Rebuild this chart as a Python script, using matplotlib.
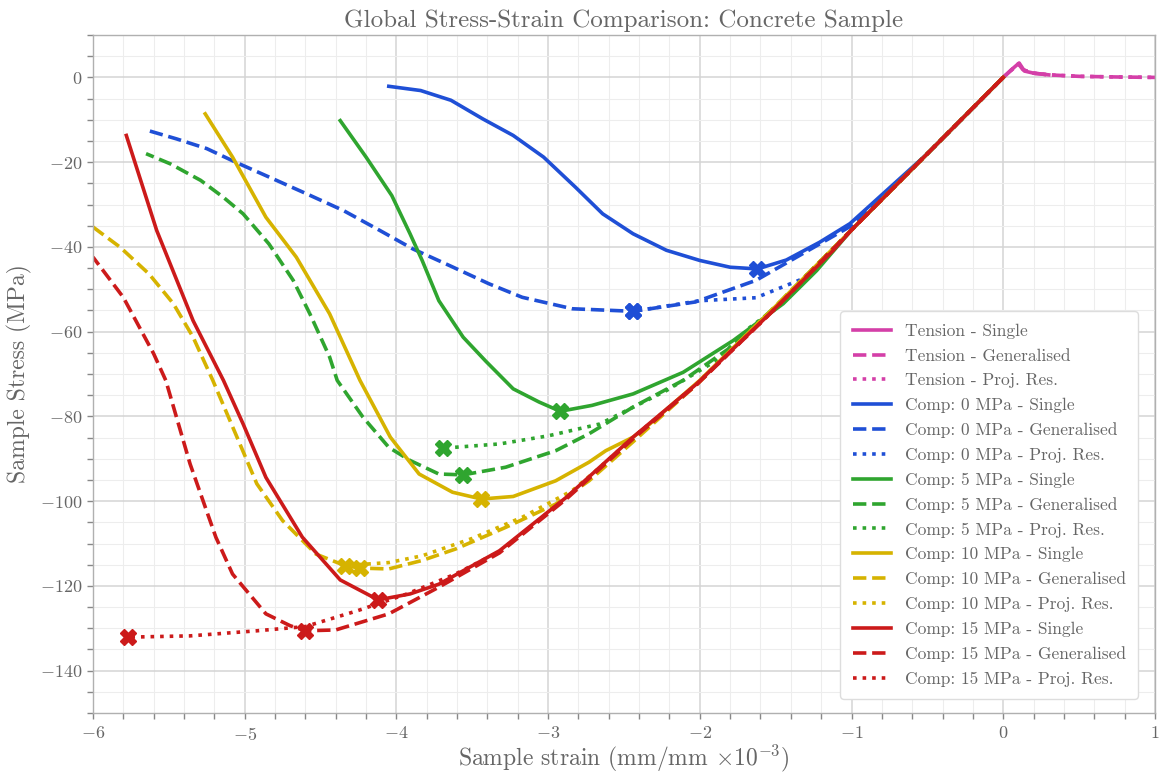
import matplotlib
matplotlib.use("Agg")
import matplotlib.pyplot as plt
from matplotlib.ticker import MultipleLocator

plt.rcParams['font.family'] = 'serif'
plt.rcParams['font.serif'] = ['cmr10', 'DejaVu Serif']
plt.rcParams['mathtext.fontset'] = 'cm'
plt.rcParams['axes.formatter.use_mathtext'] = True
plt.rcParams['axes.unicode_minus'] = True

TXT = '#666666'

# ---------------- data ----------------
tension_single_x = [0.0, 0.05, 0.105, 0.14, 0.2, 0.3]
tension_single_y = [0.0, 1.7, 3.4, 1.5, 1.0, 0.6]
tension_gen_x = [0.0, 0.05, 0.1, 0.13, 0.2, 0.3, 0.5, 0.75, 1.0]
tension_gen_y = [0.0, 1.6, 3.2, 1.8, 1.0, 0.6, 0.25, 0.1, 0.0]
tension_proj_x = tension_gen_x
tension_proj_y = tension_gen_y

# Compression 0 MPa
c0_single_x = [0.0, -0.5, -1.01, -1.21, -1.43, -1.62, -1.80, -2.0, -2.22, -2.44, -2.64, -2.82, -3.03, -3.23, -3.43, -3.64, -3.84, -4.05]
c0_single_y = [0.0, -18.0, -34.5, -38.9, -43.1, -45.2, -44.8, -43.2, -40.8, -36.9, -32.2, -25.9, -18.8, -13.7, -9.8, -5.4, -3.1, -2.1]
c0_gen_x = [0.0, -0.5, -1.0, -1.19, -1.63, -2.03, -2.44, -2.84, -3.17, -3.39, -3.65, -3.89, -4.11, -4.35, -4.59, -4.84, -5.06, -5.25, -5.45, -5.65]
c0_gen_y = [0.0, -18.0, -35.0, -38.9, -47.9, -53.0, -55.2, -54.6, -51.9, -48.7, -44.4, -40.5, -36.1, -31.4, -27.5, -23.5, -20.0, -16.8, -14.5, -12.4]
c0_proj_x = [0.0, -0.5, -1.0, -1.32, -1.63, -2.0, -2.44]
c0_proj_y = [0.0, -18.0, -36.0, -47.5, -52.0, -52.7, -55.2]

# Compression 5 MPa
c5_single_x = [0.0, -0.5, -1.0, -1.23, -1.45, -1.78, -2.11, -2.44, -2.71, -2.92, -3.06, -3.23, -3.41, -3.56, -3.72, -3.83, -3.91, -4.03, -4.20, -4.37]
c5_single_y = [0.0, -18.0, -36.0, -45.6, -53.4, -62.1, -69.6, -74.7, -77.4, -78.8, -76.6, -73.5, -67.0, -61.3, -52.7, -43.2, -36.9, -27.9, -18.8, -10.2]
c5_gen_x = [0.0, -0.5, -1.0, -1.5, -1.78, -2.11, -2.44, -2.73, -2.95, -3.28, -3.56, -3.72, -3.91, -4.05, -4.22, -4.39, -4.44, -4.57, -4.68, -4.84, -5.01, -5.14, -5.29, -5.49, -5.65]
c5_gen_y = [0.0, -18.0, -36.0, -54.0, -63.3, -71.5, -77.8, -84.1, -88.1, -92.0, -93.8, -93.6, -90.4, -87.3, -80.2, -71.5, -66.0, -55.8, -47.9, -39.3, -32.2, -28.3, -24.3, -20.4, -18.0]
c5_proj_x = [0.0, -0.5, -1.0, -1.5, -1.67, -1.89, -2.22, -2.66, -3.0, -3.32, -3.69]
c5_proj_y = [0.0, -18.0, -36.0, -54.5, -59.0, -66.8, -73.9, -81.8, -84.6, -86.5, -87.5]

# Compression 10 MPa
c10_single_x = [0.0, -0.5, -1.0, -1.5, -2.0, -2.33, -2.44, -2.62, -2.73, -2.95, -3.23, -3.44, -3.63, -3.85, -4.04, -4.24, -4.44, -4.66, -4.86, -5.08, -5.26]
c10_single_y = [0.0, -18.0, -36.0, -54.0, -71.5, -81.8, -84.9, -88.1, -90.8, -95.2, -98.9, -99.5, -97.9, -93.6, -84.9, -71.5, -55.8, -42.4, -33.0, -18.8, -8.6]
c10_gen_x = [0.0, -0.5, -1.0, -1.5, -2.0, -2.44, -2.73, -2.95, -3.28, -3.61, -3.83, -4.05, -4.24, -4.34, -4.53, -4.75, -4.92, -5.06, -5.21, -5.34, -5.47, -5.63, -5.82, -6.0]
c10_gen_y = [0.0, -18.0, -36.0, -54.0, -71.8, -86.0, -95.2, -100.7, -106.2, -111.3, -114.0, -116.0, -115.8, -115.2, -112.5, -104.6, -95.9, -84.1, -71.5, -61.3, -53.4, -46.4, -40.1, -35.3]
c10_proj_x = [0.0, -0.5, -1.0, -1.5, -2.0, -2.44, -2.84, -3.17, -3.5, -3.83, -4.05, -4.34]
c10_proj_y = [0.0, -18.0, -36.0, -54.0, -71.6, -85.5, -97.5, -103.8, -108.8, -112.9, -114.5, -115.2]

# Compression 15 MPa
c15_single_x = [0.0, -0.5, -1.0, -1.12, -1.56, -2.02, -2.44, -2.88, -3.32, -3.72, -3.91, -4.12, -4.37, -4.62, -4.86, -5.01, -5.14, -5.34, -5.58, -5.78]
c15_single_y = [0.0, -18.0, -36.0, -40.8, -56.5, -72.3, -84.9, -99.1, -111.7, -119.6, -121.9, -123.3, -118.6, -108.5, -94.4, -81.8, -71.5, -57.4, -36.1, -13.7]
c15_gen_x = [0.0, -0.5, -1.0, -1.5, -2.02, -2.44, -2.88, -3.32, -3.72, -4.05, -4.40, -4.60, -4.70, -4.86, -5.08, -5.19, -5.36, -5.52, -5.60, -5.80, -6.0]
c15_gen_y = [0.0, -18.0, -36.0, -54.5, -72.5, -85.3, -99.5, -112.2, -120.3, -126.6, -130.4, -130.6, -129.4, -126.6, -117.2, -108.5, -91.2, -71.5, -65.2, -51.9, -42.4]
c15_proj_x = [0.0, -0.5, -1.0, -1.5, -2.02, -2.44, -2.88, -3.32, -3.61, -3.93, -4.26, -4.60, -4.92, -5.36, -5.77]
c15_proj_y = [0.0, -18.0, -36.0, -54.5, -72.4, -85.0, -99.2, -111.9, -117.2, -121.9, -125.9, -129.6, -130.6, -131.8, -132.1]

# markers (peak points)
mk_c0 = [(-1.62, -45.2), (-2.44, -55.2), (-2.44, -55.2)]
mk_c5 = [(-2.92, -78.8), (-3.56, -93.8), (-3.69, -87.5)]
mk_c10 = [(-3.44, -99.5), (-4.24, -115.8), (-4.34, -115.2)]
mk_c15 = [(-4.12, -123.3), (-4.60, -130.6), (-5.77, -132.1)]

colors = {
    'Tension': '#d43fa8',
    '0': '#1f4fd6',
    '5': '#2fa52f',
    '10': '#d6b300',
    '15': '#cc1a1a',
}

fig = plt.figure(figsize=(11.59, 7.75), dpi=100)
ax = fig.add_axes([0.0802, 0.08, 0.9163, 0.8748])

lw = 2.6
styles = ['-', '--', ':']
names = ['Single', 'Generalised', 'Proj. Res.']

tens = [(tension_single_x, tension_single_y), (tension_gen_x, tension_gen_y), (tension_proj_x, tension_proj_y)]
for (xs, ys), ls, nm in zip(tens, styles, names):
    ax.plot(xs, ys, ls=ls, color=colors['Tension'], lw=lw, label=f'Tension - {nm}')

comp = [
    ('0', [(c0_single_x, c0_single_y), (c0_gen_x, c0_gen_y), (c0_proj_x, c0_proj_y)], mk_c0),
    ('5', [(c5_single_x, c5_single_y), (c5_gen_x, c5_gen_y), (c5_proj_x, c5_proj_y)], mk_c5),
    ('10', [(c10_single_x, c10_single_y), (c10_gen_x, c10_gen_y), (c10_proj_x, c10_proj_y)], mk_c10),
    ('15', [(c15_single_x, c15_single_y), (c15_gen_x, c15_gen_y), (c15_proj_x, c15_proj_y)], mk_c15),
]
for key, series, mks in comp:
    c = colors[key]
    for (xs, ys), ls, nm, mk in zip(series, styles, names, mks):
        ax.plot(xs, ys, ls=ls, color=c, lw=lw, label=f'Comp: {key} MPa - {nm}')
        ax.plot([mk[0]], [mk[1]], marker='X', color=c, ms=12, mec=c, ls='none')

ax.set_xlim(-6, 1)
ax.set_ylim(-150, 10)
ax.xaxis.set_major_locator(MultipleLocator(1))
ax.xaxis.set_minor_locator(MultipleLocator(0.2))
ax.yaxis.set_major_locator(MultipleLocator(20))
ax.yaxis.set_minor_locator(MultipleLocator(5))
ax.grid(which='major', color='#d4d4d4', lw=1.1)
ax.grid(which='minor', color='#ededed', lw=0.8)
ax.set_axisbelow(True)
for s in ax.spines.values():
    s.set_color('#b0b0b0')
    s.set_linewidth(1.0)
ax.tick_params(which='both', direction='out', length=4, width=1, color='#888888',
               labelcolor=TXT, labelsize=13)
ax.tick_params(axis='x', pad=5)

ax.set_title('Global Stress-Strain Comparison: Concrete Sample', fontsize=18, color=TXT, pad=6)
ax.set_xlabel(r'Sample strain (mm/mm $\times 10^{-3}$)', fontsize=17, color=TXT, labelpad=0)
ax.set_ylabel('Sample Stress (MPa)', fontsize=17, color=TXT, labelpad=6)

leg = ax.legend(loc='lower right', fontsize=12.5, frameon=True, fancybox=True,
                handlelength=2.2, borderpad=0.7, labelspacing=0.54,
                bbox_to_anchor=(0.992, 0.008))
leg.get_frame().set_edgecolor('#dddddd')
leg.get_frame().set_alpha(1.0)
for t in leg.get_texts():
    t.set_color(TXT)

fig.savefig('out.png', dpi=100)
